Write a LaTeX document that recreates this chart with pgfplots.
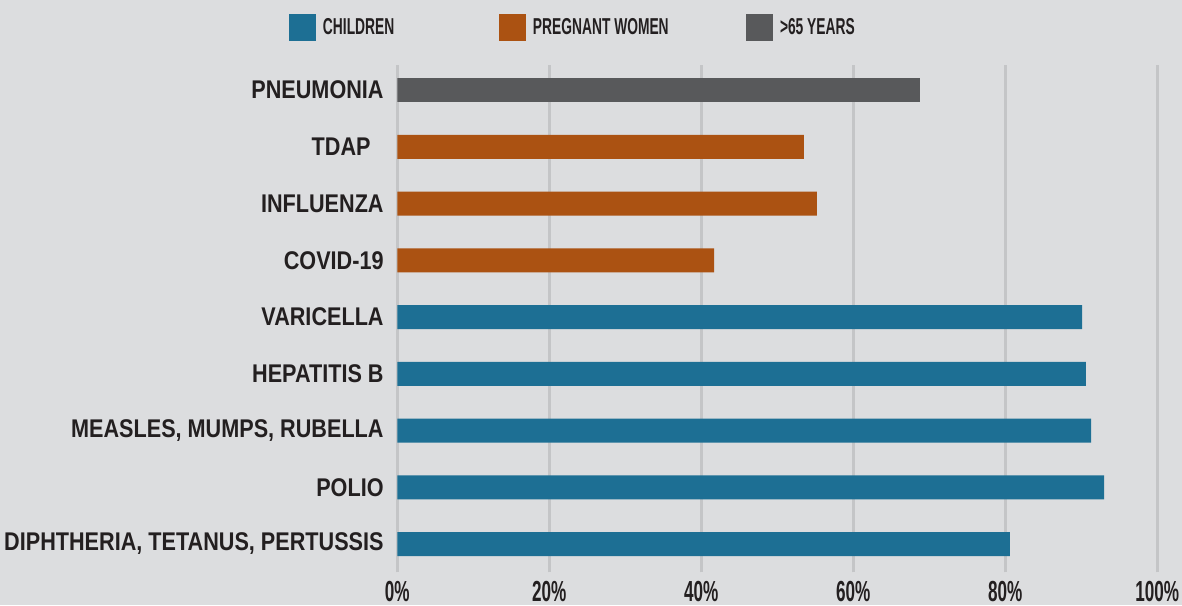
\documentclass[border=0pt]{standalone}
\usepackage{fontspec}
\setmainfont{Liberation Sans}[FakeStretch=0.845]
\newfontfamily\condfont{Liberation Sans}[FakeStretch=0.6]
\newfontfamily\tickfont{Liberation Sans}[FakeStretch=0.59]
\usepackage{pgfplots}
\pgfplotsset{compat=1.18}
\definecolor{bg}{HTML}{DCDDDF}
\definecolor{gridc}{HTML}{C4C5C7}
\definecolor{cblue}{HTML}{1D6F94}
\definecolor{corange}{HTML}{AB5212}
\definecolor{cgray}{HTML}{58595B}
\definecolor{txt}{HTML}{231F20}
\begin{document}
\begin{tikzpicture}
\useasboundingbox (0,0) rectangle (591pt,-302.5pt);
\fill[bg] (0,0) rectangle (591pt,-302.5pt);
\begin{axis}[
  at={(198.65pt,-286.2pt)}, anchor=south west,
  scale only axis, width=380pt, height=253.95pt,
  xmin=0, xmax=100, ymin=-0.5, ymax=8.45,
  xbar, bar width=12pt, bar shift=0pt,
  axis line style={draw=none}, major tick length=0pt,
  xmajorgrids, major grid style={gridc, line width=1.5pt},
  xtick={0,20,40,60,80,100},
  xticklabels={0\%,20\%,40\%,60\%,80\%,100\%},
  xticklabel style={anchor=north, inner sep=0pt, text height=10.4pt, text depth=0pt, yshift=-4pt, text=txt, font=\tickfont\bfseries\fontsize{14.5}{15}\selectfont},
  ytick={0,1,2,3,4,5,6,7,8},
  yticklabels={{DIPHTHERIA, TETANUS, PERTUSSIS},POLIO,{MEASLES, MUMPS, RUBELLA},HEPATITIS B,VARICELLA,COVID-19,INFLUENZA,TDAP\hspace*{6.5pt},PNEUMONIA},
  yticklabel style={anchor=east, inner sep=0pt, xshift=-6.65pt, text=txt, font=\bfseries\fontsize{12.8}{14}\selectfont},
  legend columns=3,
  legend style={at={(-0.1425,1.0728)}, anchor=west, draw=none, fill=none, inner sep=0pt, outer sep=0pt, column sep=0pt,
    nodes={inner sep=0pt, text=txt, font=\condfont\bfseries\fontsize{11.5}{13}\selectfont}},
  legend image code/.code={\path[#1,draw=none] (0pt,-6.75pt) rectangle (13.5pt,6.75pt);},
]
\addplot[fill=cblue, draw=none] coordinates {(80.6,0) (93.0,1) (91.3,2) (90.6,3) (90.1,4)};
\addlegendentry{\makebox[91.5pt][l]{\hspace*{3.5pt}CHILDREN}}
\addplot[fill=corange, draw=none] coordinates {(41.7,5) (55.2,6) (53.5,7)};
\addlegendentry{\makebox[110pt][l]{\hspace*{3.5pt}PREGNANT WOMEN}}
\addplot[fill=cgray, draw=none] coordinates {(68.8,8)};
\addlegendentry{\makebox[60pt][l]{\hspace*{3.5pt}>65 YEARS}}
\end{axis}
\end{tikzpicture}
\end{document}
